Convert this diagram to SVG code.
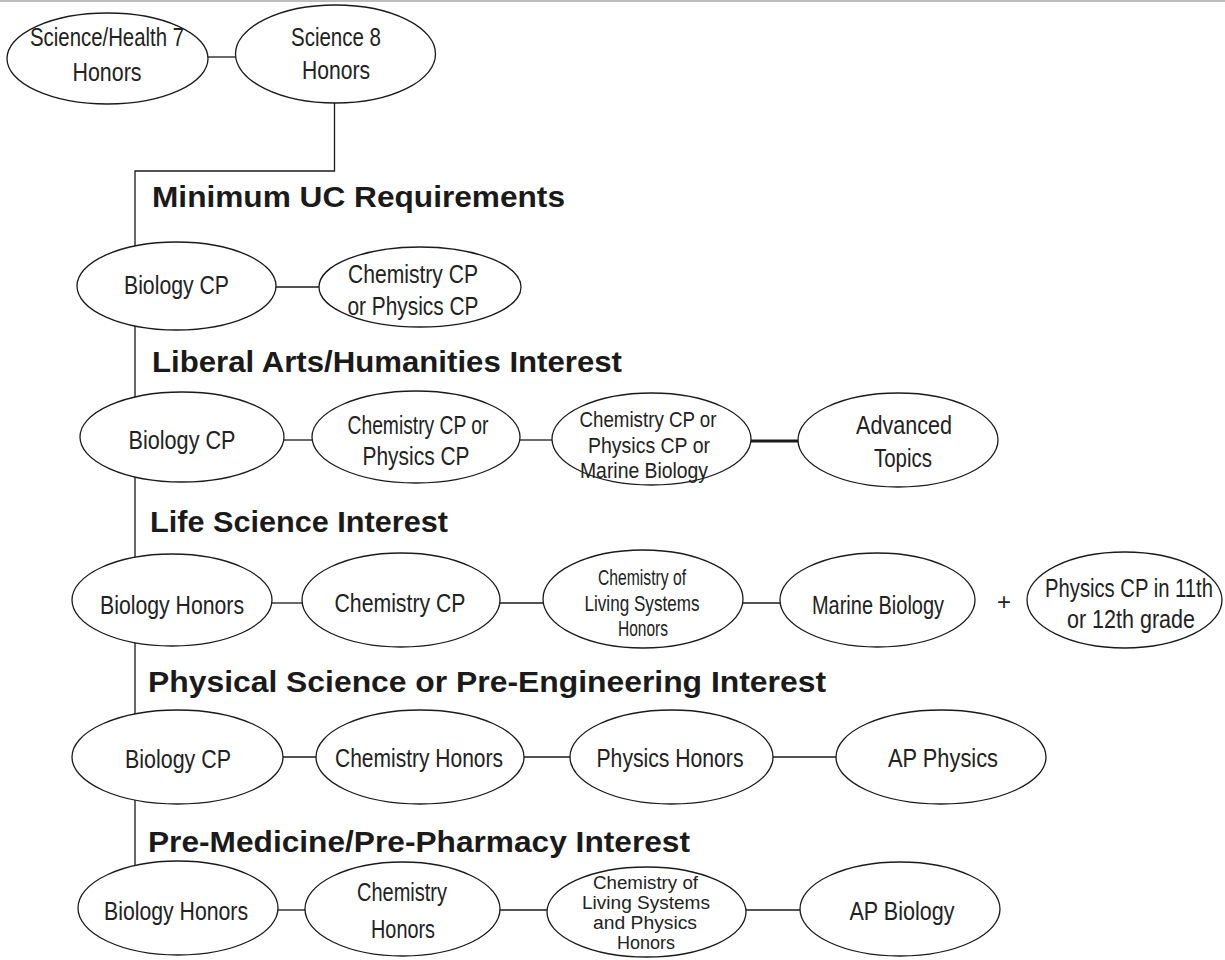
<svg xmlns="http://www.w3.org/2000/svg" width="1225" height="960" viewBox="0 0 1225 960">
<style>
.bg{fill:#ffffff}
.node ellipse{fill:#ffffff;stroke:#1a1a1a;stroke-width:1.3}
.node text{font-family:"Liberation Sans Narrow","Liberation Sans",Arial,sans-serif;fill:#222;text-anchor:middle}
.t25{font-size:26.5px}
.t24{font-size:25.5px}
.t21{font-size:22px}
.t18{font-size:18px}
.conn line,.conn polyline{stroke:#1a1a1a;stroke-width:1.3;fill:none}
.conn .thick{stroke-width:3}
.head{font-family:"Liberation Sans",Arial,sans-serif;font-weight:bold;font-size:29px;fill:#1a1a1a}
.plus{font-family:"Liberation Sans",Arial,sans-serif;font-size:24px;fill:#222;text-anchor:middle}
</style>
<rect class="bg" x="0" y="0" width="1225" height="960"/>
<line x1="0" y1="1" x2="1225" y2="1" stroke="#bdbdbd" stroke-width="2"/>

<g id="connectors" class="conn">
  <line x1="207" y1="57" x2="237" y2="57"/>
  <polyline points="334.5,103 334.5,171 135,171 135,880"/>
  <line x1="275" y1="287" x2="319" y2="287"/>
  <line x1="283" y1="440" x2="312" y2="440"/>
  <line x1="520" y1="440" x2="552" y2="440"/>
  <line class="thick" x1="751" y1="441" x2="799" y2="441"/>
  <line x1="271" y1="603" x2="303" y2="603"/>
  <line x1="499" y1="603" x2="544" y2="603"/>
  <line x1="742" y1="603" x2="781" y2="603"/>
  <line x1="282" y1="757" x2="317" y2="757"/>
  <line x1="523" y1="757" x2="571" y2="757"/>
  <line x1="772" y1="757" x2="837" y2="757"/>
  <line x1="277" y1="910" x2="306" y2="910"/>
  <line x1="499" y1="910" x2="548" y2="910"/>
  <line x1="745" y1="910" x2="801" y2="910"/>
</g>

<g id="n-sh7" class="node">
  <ellipse cx="107.5" cy="58.5" rx="100.5" ry="45.5"/>
  <text class="t25" x="107" y="46" textLength="154" lengthAdjust="spacingAndGlyphs">Science/Health 7</text>
  <text class="t25" x="107" y="81" textLength="69" lengthAdjust="spacingAndGlyphs">Honors</text>
</g>
<g id="n-s8" class="node">
  <ellipse cx="335.5" cy="54" rx="100" ry="49"/>
  <text class="t25" x="336" y="46" textLength="90" lengthAdjust="spacingAndGlyphs">Science 8</text>
  <text class="t25" x="336" y="79" textLength="68" lengthAdjust="spacingAndGlyphs">Honors</text>
</g>

<text class="head" x="152" y="207" textLength="413" lengthAdjust="spacingAndGlyphs">Minimum UC Requirements</text>
<g id="n-min-bio" class="node">
  <ellipse cx="176.5" cy="286" rx="99.5" ry="44"/>
  <text class="t25" x="176.5" y="294" textLength="105" lengthAdjust="spacingAndGlyphs">Biology CP</text>
</g>
<g id="n-min-chem" class="node">
  <ellipse cx="420" cy="287" rx="101" ry="40"/>
  <text class="t24" x="413" y="283" textLength="130" lengthAdjust="spacingAndGlyphs">Chemistry CP</text>
  <text class="t24" x="413" y="315" textLength="131" lengthAdjust="spacingAndGlyphs">or Physics CP</text>
</g>

<text class="head" x="152" y="372" textLength="470" lengthAdjust="spacingAndGlyphs">Liberal Arts/Humanities Interest</text>
<g id="n-lib-bio" class="node">
  <ellipse cx="182" cy="437" rx="102" ry="45"/>
  <text class="t25" x="182" y="449" textLength="107" lengthAdjust="spacingAndGlyphs">Biology CP</text>
</g>
<g id="n-lib-chem" class="node">
  <ellipse cx="416" cy="437" rx="104" ry="46"/>
  <text class="t24" x="418" y="434" textLength="141" lengthAdjust="spacingAndGlyphs">Chemistry CP or</text>
  <text class="t24" x="416" y="465" textLength="107" lengthAdjust="spacingAndGlyphs">Physics CP</text>
</g>
<g id="n-lib-cpm" class="node">
  <ellipse cx="651.5" cy="439" rx="99.5" ry="46"/>
  <text class="t21" x="648" y="427" textLength="137" lengthAdjust="spacingAndGlyphs">Chemistry CP or</text>
  <text class="t21" x="649" y="453" textLength="122" lengthAdjust="spacingAndGlyphs">Physics CP or</text>
  <text class="t21" x="644" y="478" textLength="128" lengthAdjust="spacingAndGlyphs">Marine Biology</text>
</g>
<g id="n-lib-adv" class="node">
  <ellipse cx="898" cy="440" rx="100" ry="47"/>
  <text class="t24" x="904" y="434" textLength="96" lengthAdjust="spacingAndGlyphs">Advanced</text>
  <text class="t24" x="903" y="467" textLength="58" lengthAdjust="spacingAndGlyphs">Topics</text>
</g>

<text class="head" x="150" y="532" textLength="298" lengthAdjust="spacingAndGlyphs">Life Science Interest</text>
<g id="n-life-bio" class="node">
  <ellipse cx="172" cy="600" rx="100" ry="46"/>
  <text class="t25" x="172" y="614" textLength="144" lengthAdjust="spacingAndGlyphs">Biology Honors</text>
</g>
<g id="n-life-chem" class="node">
  <ellipse cx="401" cy="600" rx="99" ry="47"/>
  <text class="t25" x="400" y="612" textLength="131" lengthAdjust="spacingAndGlyphs">Chemistry CP</text>
</g>
<g id="n-life-cls" class="node">
  <ellipse cx="643" cy="599" rx="100" ry="49"/>
  <text class="t21" x="642" y="585" textLength="88" lengthAdjust="spacingAndGlyphs">Chemistry of</text>
  <text class="t21" x="642" y="611" textLength="115" lengthAdjust="spacingAndGlyphs">Living Systems</text>
  <text class="t21" x="643" y="636" textLength="50" lengthAdjust="spacingAndGlyphs">Honors</text>
</g>
<g id="n-life-mar" class="node">
  <ellipse cx="877.5" cy="600" rx="97.5" ry="47"/>
  <text class="t25" x="878" y="614" textLength="132" lengthAdjust="spacingAndGlyphs">Marine Biology</text>
</g>
<text class="plus" x="1004" y="610">+</text>
<g id="n-life-phys" class="node">
  <ellipse cx="1124.5" cy="600" rx="97.5" ry="48"/>
  <text class="t25" x="1129" y="597" textLength="168" lengthAdjust="spacingAndGlyphs">Physics CP in 11th</text>
  <text class="t25" x="1131" y="628" textLength="128" lengthAdjust="spacingAndGlyphs">or 12th grade</text>
</g>

<text class="head" x="148" y="692" textLength="678" lengthAdjust="spacingAndGlyphs">Physical Science or Pre-Engineering Interest</text>
<g id="n-phys-bio" class="node">
  <ellipse cx="177.5" cy="757" rx="105.5" ry="47"/>
  <text class="t25" x="178" y="768" textLength="106" lengthAdjust="spacingAndGlyphs">Biology CP</text>
</g>
<g id="n-phys-chem" class="node">
  <ellipse cx="420" cy="757" rx="104" ry="47"/>
  <text class="t25" x="419" y="767" textLength="168" lengthAdjust="spacingAndGlyphs">Chemistry Honors</text>
</g>
<g id="n-phys-ph" class="node">
  <ellipse cx="671.5" cy="757" rx="101.5" ry="47"/>
  <text class="t25" x="670" y="767" textLength="147" lengthAdjust="spacingAndGlyphs">Physics Honors</text>
</g>
<g id="n-phys-ap" class="node">
  <ellipse cx="941" cy="757" rx="105" ry="47"/>
  <text class="t25" x="943" y="767" textLength="110" lengthAdjust="spacingAndGlyphs">AP Physics</text>
</g>

<text class="head" x="148" y="852" textLength="542" lengthAdjust="spacingAndGlyphs">Pre-Medicine/Pre-Pharmacy Interest</text>
<g id="n-med-bio" class="node">
  <ellipse cx="178" cy="908" rx="100" ry="47"/>
  <text class="t25" x="176" y="920" textLength="144" lengthAdjust="spacingAndGlyphs">Biology Honors</text>
</g>
<g id="n-med-chem" class="node">
  <ellipse cx="402.5" cy="909" rx="97.5" ry="47"/>
  <text class="t25" x="402" y="901" textLength="90" lengthAdjust="spacingAndGlyphs">Chemistry</text>
  <text class="t25" x="403" y="938" textLength="64" lengthAdjust="spacingAndGlyphs">Honors</text>
</g>
<g id="n-med-cls" class="node">
  <ellipse cx="646.5" cy="912" rx="99.5" ry="45"/>
  <text class="t18" x="645.5" y="889" textLength="105" lengthAdjust="spacingAndGlyphs">Chemistry of</text>
  <text class="t18" x="646" y="909" textLength="128" lengthAdjust="spacingAndGlyphs">Living Systems</text>
  <text class="t18" x="645" y="929" textLength="104" lengthAdjust="spacingAndGlyphs">and Physics</text>
  <text class="t18" x="646" y="949" textLength="58" lengthAdjust="spacingAndGlyphs">Honors</text>
</g>
<g id="n-med-ap" class="node">
  <ellipse cx="900" cy="909" rx="100" ry="47"/>
  <text class="t25" x="902" y="920" textLength="105" lengthAdjust="spacingAndGlyphs">AP Biology</text>
</g>
</svg>
